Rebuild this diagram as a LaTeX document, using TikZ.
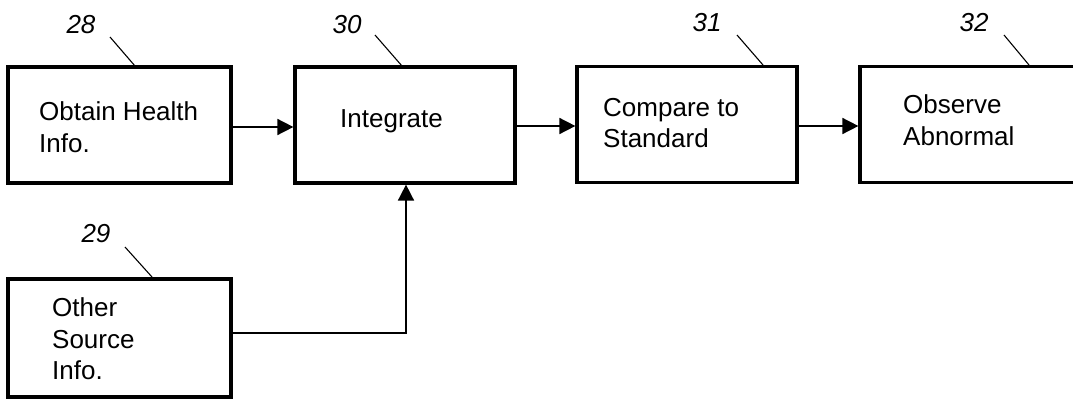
\documentclass[tikz,border=0pt]{standalone}
\usepackage{fontspec}
\setmainfont{Liberation Sans}
\usetikzlibrary{arrows.meta}
\begin{document}
\begin{tikzpicture}[x=1pt,y=-1pt,
  box/.style={draw,line width=3.2pt,minimum width=#1,minimum height=116pt,inner sep=0pt},
  txt/.style={font=\fontsize{26}{31.5}\selectfont,align=left,inner sep=0pt,anchor=west},
  num/.style={font=\fontsize{26}{30}\selectfont\itshape,inner sep=0pt},
  flow/.style={line width=1.6pt,-{Triangle[length=16pt,width=16pt]}},
  leader/.style={line width=1.1pt}
]
\fill[white] (0,0) rectangle (1073,399);
\clip (0,0) rectangle (1073,399);
\useasboundingbox (0,0) rectangle (1073,399);
% boxes
\node[box=223pt] (b28) at (119.5,125) {};
\node[box=220pt] (b30) at (405,125) {};
\node[box=220pt] (b31) at (687,124.5) {};
\node[box=230pt] (b32) at (975,124.5) {};
\node[box=223pt,minimum height=118pt] (b29) at (119.5,338) {};
% texts
\node[txt] (t28) at (39,127) {Obtain Health\\Info.};
\node[txt] (t30) at (340,121) {Integrate};
\node[txt] (t31) at (603,123) {Compare to\\Standard};
\node[txt] (t32) at (903,120) {Observe\\Abnormal};
\node[txt] (t29) at (52,339) {Other\\Source\\Info.};
% reference numbers
\node[num] (n28) at (81,25) {28};
\node[num] (n30) at (347,25) {30};
\node[num] (n31) at (707,23) {31};
\node[num] (n32) at (974,23) {32};
\node[num] (n29) at (96,234) {29};
% leader coordinates
\coordinate (s28) at (110,37);  \coordinate (e28) at (135,66);
\coordinate (s30) at (375,35);  \coordinate (e30) at (402,66);
\coordinate (s31) at (737,35);  \coordinate (e31) at (763,65);
\coordinate (s32) at (1004,35); \coordinate (e32) at (1029,65);
\coordinate (s29) at (125,247); \coordinate (e29) at (152,277);
\draw[leader] (s28) -- (e28);
\draw[leader] (s30) -- (e30);
\draw[leader] (s31) -- (e31);
\draw[leader] (s32) -- (e32);
\draw[leader] (s29) -- (e29);
% connectors
\draw[flow] ([yshift=-2pt]b28.east) -- ([yshift=-2pt]b30.west);
\draw[flow] ([yshift=-1pt]b30.east) -- ([yshift=-1.5pt]b31.west);
\draw[flow] ([yshift=-1.5pt]b31.east) -- ([yshift=-1.5pt]b32.west);
\draw[flow] ([yshift=5pt]b29.east) -| ([xshift=1pt]b30.south);
\end{tikzpicture}
\end{document}
